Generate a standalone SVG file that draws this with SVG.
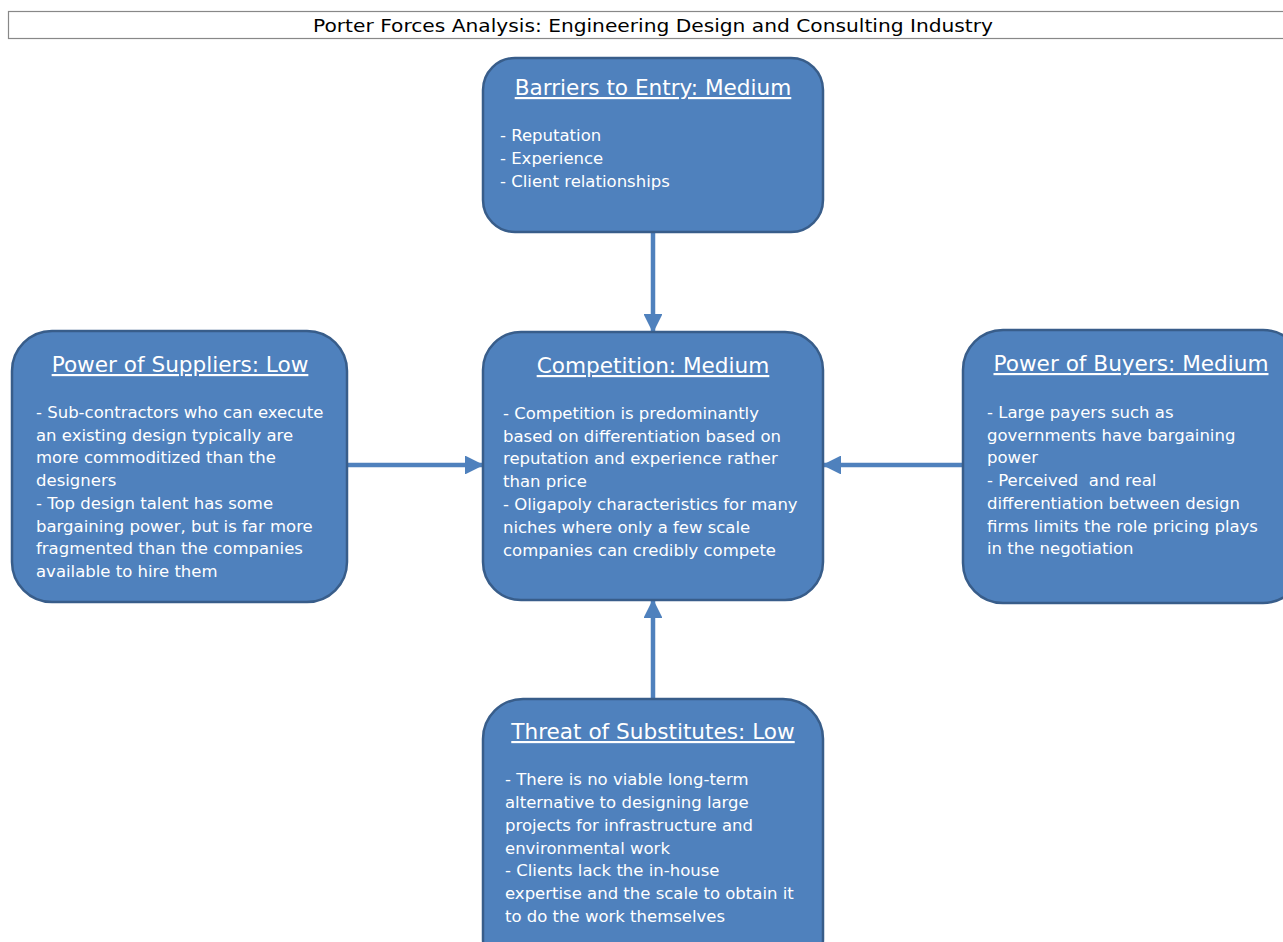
<svg xmlns="http://www.w3.org/2000/svg" width="1283" height="942" viewBox="0 0 1283 942">
<defs>
<style>
.box{fill:#4F81BD;stroke:#385D8A;stroke-width:2.5}
.h{font-family:"DejaVu Sans","Liberation Sans",sans-serif;font-size:21.6px;fill:#fff;text-anchor:middle;text-decoration:underline}
.t{font-family:"DejaVu Sans","Liberation Sans",sans-serif;font-size:16.5px;fill:#fff}
.conn{stroke:#4F81BD;stroke-width:4.5;fill:none}
.title{font-family:"DejaVu Sans","Liberation Sans",sans-serif;font-size:18px;fill:#000;text-anchor:middle}
</style>
<marker id="ah" viewBox="0 0 10 10" refX="9" refY="5" markerWidth="4.2" markerHeight="4.2" orient="auto" markerUnits="strokeWidth">
<path d="M0,0 L10,5 L0,10 z" fill="#4F81BD"/>
</marker>
</defs>
<rect width="1283" height="942" fill="#fff"/>
<g id="title">
<rect x="8.5" y="11.5" width="1280" height="27" fill="#fff" stroke="#888" stroke-width="1.2"/>
<text class="title" x="653" y="32" textLength="680" lengthAdjust="spacingAndGlyphs">Porter Forces Analysis: Engineering Design and Consulting Industry</text>
</g>
<g id="connectors">
<line class="conn" x1="653" y1="233" x2="653" y2="331" marker-end="url(#ah)"/>
<line class="conn" x1="348" y1="465" x2="482" y2="465" marker-end="url(#ah)"/>
<line class="conn" x1="962" y1="465" x2="824" y2="465" marker-end="url(#ah)"/>
<line class="conn" x1="653" y1="698" x2="653" y2="601" marker-end="url(#ah)"/>
</g>
<g id="barriers">
<rect class="box" x="483" y="58" width="340" height="174" rx="32"/>
<text class="h" x="653" y="95">Barriers to Entry: Medium</text>
<text class="t" x="500" y="141">- Reputation</text>
<text class="t" x="500" y="164">- Experience</text>
<text class="t" x="500" y="187">- Client relationships</text>
</g>
<g id="competition">
<rect class="box" x="483" y="332" width="340" height="268" rx="38"/>
<text class="h" x="653" y="373">Competition: Medium</text>
<text class="t" x="503" y="419">- Competition is predominantly</text>
<text class="t" x="503" y="442">based on differentiation based on</text>
<text class="t" x="503" y="464">reputation and experience rather</text>
<text class="t" x="503" y="487">than price</text>
<text class="t" x="503" y="510">- Oligapoly characteristics for many</text>
<text class="t" x="503" y="533">niches where only a few scale</text>
<text class="t" x="503" y="556">companies can credibly compete</text>
</g>
<g id="suppliers">
<rect class="box" x="12" y="331" width="335" height="271" rx="40"/>
<text class="h" x="180" y="372">Power of Suppliers: Low</text>
<text class="t" x="36" y="418">- Sub-contractors who can execute</text>
<text class="t" x="36" y="441">an existing design typically are</text>
<text class="t" x="36" y="463">more commoditized than the</text>
<text class="t" x="36" y="486">designers</text>
<text class="t" x="36" y="509">- Top design talent has some</text>
<text class="t" x="36" y="532">bargaining power, but is far more</text>
<text class="t" x="36" y="554">fragmented than the companies</text>
<text class="t" x="36" y="577">available to hire them</text>
</g>
<g id="buyers">
<rect class="box" x="963" y="330" width="340" height="273" rx="40"/>
<text class="h" x="1131" y="371">Power of Buyers: Medium</text>
<text class="t" x="987" y="418">- Large payers such as</text>
<text class="t" x="987" y="441">governments have bargaining</text>
<text class="t" x="987" y="463">power</text>
<text class="t" x="987" y="486">- Perceived&#160; and real</text>
<text class="t" x="987" y="509">differentiation between design</text>
<text class="t" x="987" y="532">firms limits the role pricing plays</text>
<text class="t" x="987" y="554">in the negotiation</text>
</g>
<g id="substitutes">
<rect class="box" x="483" y="699" width="340" height="280" rx="40"/>
<text class="h" x="653" y="739">Threat of Substitutes: Low</text>
<text class="t" x="505" y="785">- There is no viable long-term</text>
<text class="t" x="505" y="808">alternative to designing large</text>
<text class="t" x="505" y="831">projects for infrastructure and</text>
<text class="t" x="505" y="854">environmental work</text>
<text class="t" x="505" y="876">- Clients lack the in-house</text>
<text class="t" x="505" y="899">expertise and the scale to obtain it</text>
<text class="t" x="505" y="922">to do the work themselves</text>
</g>
</svg>
